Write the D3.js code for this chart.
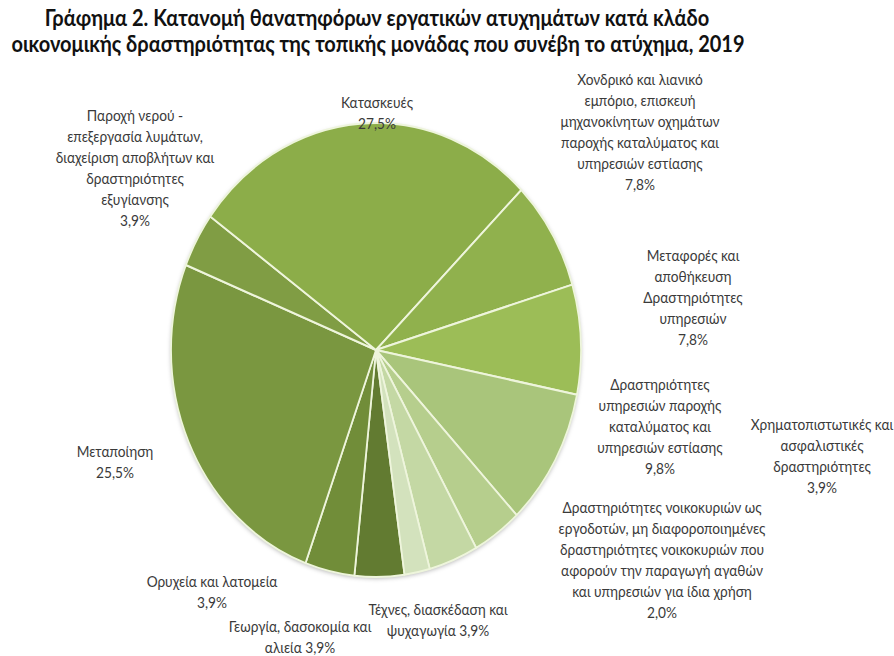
<!DOCTYPE html>
<html><head><meta charset="utf-8">
<script src="https://cdn.jsdelivr.net/npm/d3@7"></script>
<style>
html,body{margin:0;padding:0;background:#fff;}
svg{display:block;}
</style></head>
<body>
<svg id="chart" width="894" height="656"></svg>
<script>
// ---- data ----
const categories = [
  "Γεωργία, δασοκομία και αλιεία",
  "Ορυχεία και λατομεία",
  "Μεταποίηση",
  "Παροχή νερού - επεξεργασία λυμάτων, διαχείριση αποβλήτων και δραστηριότητες εξυγίανσης",
  "Κατασκευές",
  "Χονδρικό και λιανικό εμπόριο, επισκευή μηχανοκίνητων οχημάτων παροχής καταλύματος και υπηρεσιών εστίασης",
  "Μεταφορές και αποθήκευση Δραστηριότητες υπηρεσιών",
  "Δραστηριότητες υπηρεσιών παροχής καταλύματος και υπηρεσιών εστίασης",
  "Χρηματοπιστωτικές και ασφαλιστικές δραστηριότητες",
  "Τέχνες, διασκέδαση και ψυχαγωγία",
  "Δραστηριότητες νοικοκυριών ως εργοδοτών, μη διαφοροποιημένες δραστηριότητες νοικοκυριών που αφορούν την παραγωγή αγαθών και υπηρεσιών για ίδια χρήση"
];
const values = [3.9, 3.9, 25.5, 3.9, 27.5, 7.8, 7.8, 9.8, 3.9, 3.9, 2.0];
// label text broken into lines as in the original ({p} = percentage)
const labelLines = [
  ["Γεωργία, δασοκομία και", "αλιεία {p}"],
  ["Ορυχεία και λατομεία", "{p}"],
  ["Μεταποίηση", "{p}"],
  ["Παροχή νερού -", "επεξεργασία λυμάτων,", "διαχείριση αποβλήτων και", "δραστηριότητες", "εξυγίανσης", "{p}"],
  ["Κατασκευές", "{p}"],
  ["Χονδρικό και λιανικό", "εμπόριο, επισκευή", "μηχανοκίνητων οχημάτων", "παροχής καταλύματος και", "υπηρεσιών εστίασης", "{p}"],
  ["Μεταφορές και", "αποθήκευση", "Δραστηριότητες", "υπηρεσιών", "{p}"],
  ["Δραστηριότητες", "υπηρεσιών παροχής", "καταλύματος και", "υπηρεσιών εστίασης", "{p}"],
  ["Χρηματοπιστωτικές και", "ασφαλιστικές", "δραστηριότητες", "{p}"],
  ["Τέχνες, διασκέδαση και", "ψυχαγωγία {p}"],
  ["Δραστηριότητες νοικοκυριών ως", "εργοδοτών, μη διαφοροποιημένες", "δραστηριότητες νοικοκυριών που", "αφορούν την παραγωγή αγαθών", "και υπηρεσιών για ίδια χρήση", "{p}"]
];
const titleLines = [
  "Γράφημα 2. Κατανομή θανατηφόρων εργατικών ατυχημάτων  κατά κλάδο",
  "οικονομικής δραστηριότητας της τοπικής μονάδας που συνέβη το ατύχημα, 2019"
];

// ---- layout / style ----
const colors = ["#627b31", "#718d39", "#7a9740", "#809d44", "#8cad49", "#90b14d",
                "#9cbd57", "#a9c57b", "#b6ce8d", "#c4d8a4", "#d3e2bd"];
// label anchor (centre x, first baseline y)
const labelPos = [
  [300, 632], [212, 587], [115, 457], [135, 121], [377, 108], [640, 85],
  [693, 261], [660, 390], [822, 430], [438, 615], [662, 513]
];
const cx = 376, cy = 350, R = 205, yStretch = 1.107;
const startDeg = 172;
const lineH = 21;

const svg = d3.select("#chart");
const defs = svg.append("defs");
const f = defs.append("filter").attr("id", "sh").attr("x", "-10%").attr("y", "-10%")
  .attr("width", "120%").attr("height", "120%");
f.append("feDropShadow").attr("dx", 0).attr("dy", 1.5).attr("stdDeviation", 2)
  .attr("flood-color", "#000").attr("flood-opacity", 0.28);

const fmt = v => d3.format(".1f")(v).replace(".", ",") + "%";

const pie = d3.pie().sort(null).value(d => d)
  .startAngle(startDeg * Math.PI / 180)
  .endAngle((startDeg + 360) * Math.PI / 180);
const arc = d3.arc().innerRadius(0).outerRadius(R);

const g = svg.append("g")
  .attr("transform", `translate(${cx},${cy}) scale(1,${yStretch})`);
g.append("circle").attr("r", R).attr("fill", "#8cad49").attr("filter", "url(#sh)");
g.selectAll("path.slice").data(pie(values)).join("path")
  .attr("class", "slice")
  .attr("d", arc)
  .attr("fill", (d, i) => colors[i])
  .attr("stroke", "#eef5dc")
  .attr("stroke-width", 1.8)
  .attr("stroke-linejoin", "round");

// title
svg.append("g").selectAll("text").data(titleLines).join("text")
  .attr("transform", (d, i) => `translate(${i === 0 ? 377 : 378},${i === 0 ? 26 : 52}) scale(1,1.1)`)
  .attr("text-anchor", "middle")
  .attr("font-family", "Lato, 'Open Sans', sans-serif")
  .attr("font-weight", "bold")
  .attr("font-size", "20px")
  .attr("fill", "#111")
  .text(d => d);

// labels
const lg = svg.append("g");
values.forEach((v, i) => {
  const [x, y] = labelPos[i];
  labelLines[i].forEach((ln, j) => {
    lg.append("text")
      .attr("transform", `translate(${x},${y + j * lineH}) scale(1,1.1)`)
      .attr("text-anchor", "middle")
      .attr("font-family", "Lato, 'Open Sans', sans-serif")
      .attr("font-size", "13.7px")
      .attr("fill", "#3a3a3a")
      .text(ln.replace("{p}", fmt(v)));
  });
});
</script>
</body></html>
